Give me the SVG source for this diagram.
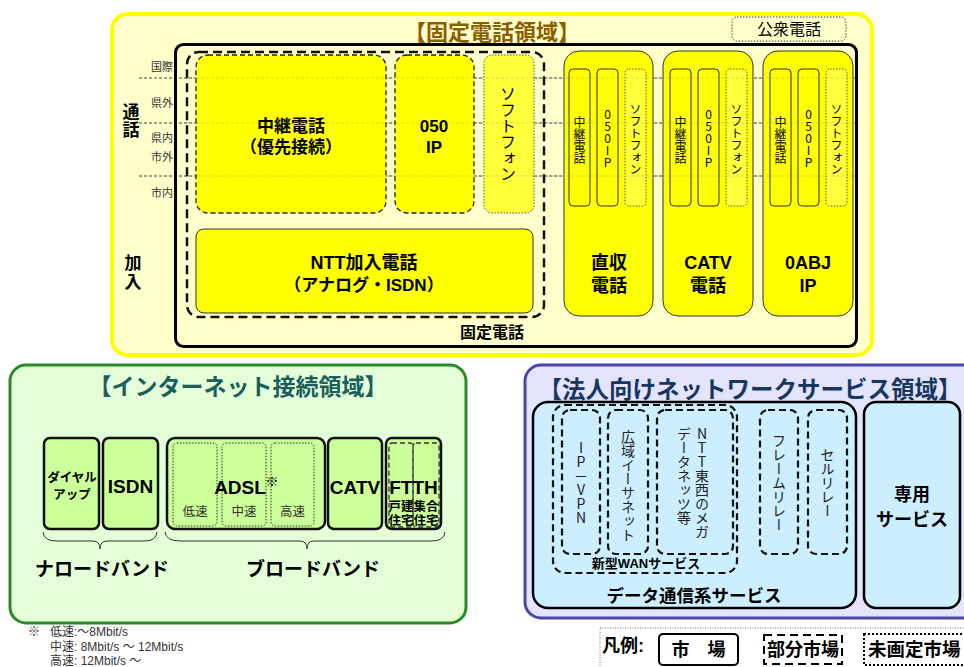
<svg xmlns="http://www.w3.org/2000/svg" width="964" height="667" viewBox="0 0 964 667">
<style>
text{font-family:'Liberation Sans','Noto Sans CJK JP',sans-serif;fill:#000}
.b{font-weight:bold}
.m{text-anchor:middle}
.v{font-family:'Noto Sans CJK JP',sans-serif;writing-mode:vertical-rl;text-orientation:upright;text-anchor:middle}
.ybox{fill:#FFFF00;stroke:#333;stroke-width:1}
.ysoft{fill:#FFFF3A;stroke:#555;stroke-width:1;stroke-dasharray:1.5 1.5}
.ydash{fill:#FFFF00;stroke:#222;stroke-width:1.3;stroke-dasharray:5 3}
.gbox{fill:#CCFF99;stroke:#111;stroke-width:2.5}
.gdot{fill:#CCFF99;stroke:#333;stroke-width:1;stroke-dasharray:1.5 1.5}
.gdash{fill:none;stroke:#333;stroke-width:1.3;stroke-dasharray:5 3}
.bdash{fill:none;stroke:#111;stroke-width:2.2;stroke-dasharray:7 4}
.guide{stroke:#444;stroke-width:1;stroke-dasharray:3 2;fill:none}
.faint{stroke:#777;stroke-width:1;stroke-dasharray:3 2;fill:none;opacity:0.3}
.small{font-size:11px;fill:#333}
</style>
<rect width="964" height="667" fill="#fff"/>

<!-- Fixed telephone area -->
<g id="fixed-area">
  <rect x="112" y="14" width="760" height="341" rx="16" fill="#FFFFCC" stroke="#FFFF00" stroke-width="4"/>
  <text x="492" y="40" class="b m" font-size="22" style="fill:#8C5E00">【固定電話領域】</text>
</g>
<g id="public-phone">
  <rect x="732" y="17" width="114" height="24" rx="5" fill="none" stroke="#444" stroke-width="1" stroke-dasharray="1.5 1.5"/>
  <text x="789" y="35" class="m" font-size="16">公衆電話</text>
</g>
<g id="guides">
  <line x1="139" y1="78" x2="857" y2="78" class="guide"/>
  <line x1="139" y1="123" x2="857" y2="123" class="guide"/>
  <line x1="139" y1="176" x2="857" y2="176" class="guide"/>
  <text x="162" y="71" class="m small">国際</text>
  <text x="162" y="107" class="m small">県外</text>
  <text x="162" y="142" class="m small">県内</text>
  <text x="162" y="161" class="m small">市外</text>
  <text x="162" y="197" class="m small">市内</text>
  <text x="131" y="118" class="b m" font-size="17">通</text>
  <text x="131" y="136" class="b m" font-size="17">話</text>
  <text x="133" y="269" class="b m" font-size="17">加</text>
  <text x="133" y="288" class="b m" font-size="17">入</text>
</g>
<g id="fixed-phone">
  <rect x="175.5" y="44.5" width="681" height="302" rx="8" fill="none" stroke="#000" stroke-width="3"/>
  <rect x="187" y="52" width="357" height="265" rx="12" fill="none" stroke="#111" stroke-width="2.5" stroke-dasharray="9 5"/>
  <text x="492" y="338" class="b m" font-size="16">固定電話</text>
</g>
<g id="relay-phone">
  <rect x="196" y="55" width="190" height="158" rx="12" class="ydash"/>
  <text x="291" y="132" class="b m" font-size="17">中継電話</text>
  <text x="291" y="153" class="b m" font-size="17">（優先接続）</text>
</g>
<g id="ip-050">
  <rect x="395" y="55" width="79" height="158" rx="12" class="ydash"/>
  <text x="434" y="132" class="b m" font-size="17">050</text>
  <text x="434" y="153" class="b m" font-size="17">IP</text>
</g>
<g id="softphone">
  <rect x="484" y="55" width="50" height="158" rx="8" class="ysoft"/>
  <text x="508" y="134" class="v" font-size="16">ソフトフォン</text>
</g>
<g id="ntt-subscriber">
  <rect x="196" y="229" width="337" height="84" rx="8" class="ybox"/>
  <text x="364" y="269" class="b m" font-size="18">NTT加入電話</text>
  <text x="364" y="291" class="b m" font-size="17">（アナログ・ISDN）</text>
</g>
<g id="direct-phone">
  <rect x="564" y="51" width="89" height="265" rx="15" class="ybox"/>
  <rect x="569" y="69" width="21" height="137" rx="4" class="ybox"/>
  <rect x="597" y="69" width="21" height="137" rx="4" class="ybox"/>
  <rect x="625" y="69" width="21" height="137" rx="4" class="ysoft"/>
  <text x="579.5" y="140" class="v" font-size="12">中継電話</text>
  <text x="607.5" y="138" class="v" font-size="12">050IP</text>
  <text x="635.5" y="139" class="v" font-size="12">ソフトフォン</text>
  <text x="609" y="269" class="b m" font-size="18">直収</text>
  <text x="609" y="292" class="b m" font-size="18">電話</text>
</g>
<g id="catv-phone">
  <rect x="663" y="51" width="90" height="265" rx="15" class="ybox"/>
  <rect x="670" y="69" width="21" height="137" rx="4" class="ybox"/>
  <rect x="698" y="69" width="21" height="137" rx="4" class="ybox"/>
  <rect x="726" y="69" width="21" height="137" rx="4" class="ysoft"/>
  <text x="680.5" y="140" class="v" font-size="12">中継電話</text>
  <text x="708.5" y="138" class="v" font-size="12">050IP</text>
  <text x="736.5" y="139" class="v" font-size="12">ソフトフォン</text>
  <text x="708" y="269" class="b m" font-size="18">CATV</text>
  <text x="708" y="292" class="b m" font-size="18">電話</text>
</g>
<g id="oabj-ip">
  <rect x="763" y="51" width="90" height="265" rx="15" class="ybox"/>
  <rect x="770" y="69" width="21" height="137" rx="4" class="ybox"/>
  <rect x="798" y="69" width="21" height="137" rx="4" class="ybox"/>
  <rect x="826" y="69" width="21" height="137" rx="4" class="ysoft"/>
  <text x="780.5" y="140" class="v" font-size="12">中継電話</text>
  <text x="808.5" y="138" class="v" font-size="12">050IP</text>
  <text x="836.5" y="139" class="v" font-size="12">ソフトフォン</text>
  <text x="808" y="269" class="b m" font-size="18">0ABJ</text>
  <text x="808" y="292" class="b m" font-size="18">IP</text>
</g>
<g id="guides-overlay">
  <line x1="186" y1="78" x2="855" y2="78" class="faint"/>
  <line x1="186" y1="123" x2="855" y2="123" class="faint"/>
  <line x1="186" y1="176" x2="855" y2="176" class="faint"/>
</g>

<!-- Internet area -->
<g id="internet-area">
  <rect x="10" y="365" width="456" height="258" rx="16" fill="#E4FFD8" stroke="#2A8A2A" stroke-width="3"/>
  <text x="238" y="395" class="b m" font-size="23" style="fill:#1B5E60">【インターネット接続領域】</text>
</g>
<g id="dialup">
  <rect x="44" y="438" width="55" height="91" rx="6" class="gbox"/>
  <text x="72" y="482" class="b m" font-size="12.5">ダイヤル</text>
  <text x="72" y="499" class="b m" font-size="12.5">アップ</text>
</g>
<g id="isdn">
  <rect x="103" y="438" width="55" height="91" rx="6" class="gbox"/>
  <text x="130.5" y="493" class="b m" font-size="19">ISDN</text>
</g>
<g id="adsl">
  <rect x="167" y="438" width="158" height="91" rx="8" class="gbox"/>
  <rect x="173" y="443" width="44" height="83" rx="4" class="gdot"/>
  <rect x="222" y="443" width="44" height="83" rx="4" class="gdot"/>
  <rect x="271" y="443" width="43" height="83" rx="4" class="gdot"/>
  <text x="240" y="494" class="b m" font-size="19">ADSL</text>
  <text x="272" y="486" class="b m" font-size="13">※</text>
  <text x="195" y="516" class="m" font-size="12.5" style="fill:#333">低速</text>
  <text x="244" y="516" class="m" font-size="12.5" style="fill:#333">中速</text>
  <text x="292.5" y="516" class="m" font-size="12.5" style="fill:#333">高速</text>
</g>
<g id="catv-net">
  <rect x="328" y="438" width="54" height="91" rx="6" class="gbox"/>
  <text x="355" y="494" class="b m" font-size="19">CATV</text>
</g>
<g id="ftth">
  <rect x="386" y="438" width="55" height="91" rx="6" class="gbox"/>
  <rect x="389" y="443" width="24" height="84" rx="3" class="gdash"/>
  <rect x="413" y="443" width="26" height="84" rx="3" class="gdash"/>
  <text x="413.5" y="494" class="b m" font-size="19">FTTH</text>
  <text x="401" y="511" class="b m" font-size="12.5">戸建</text>
  <text x="401" y="525" class="b m" font-size="12.5">住宅</text>
  <text x="426" y="511" class="b m" font-size="12.5">集合</text>
  <text x="426" y="525" class="b m" font-size="12.5">住宅</text>
</g>
<g id="narrowband">
  <path d="M43,532 Q44,541 56,541 L93,541 Q100,541 100,549 Q100,541 107,541 L145,541 Q156,541 157,532" fill="none" stroke="#333" stroke-width="1"/>
  <text x="102" y="576" class="b m" font-size="19">ナロードバンド</text>
</g>
<g id="broadband">
  <path d="M165,532 Q166,541 180,541 L300,541 Q307,541 307,549 Q307,541 314,541 L432,541 Q444,541 445,532" fill="none" stroke="#333" stroke-width="1"/>
  <text x="313" y="576" class="b m" font-size="19">ブロードバンド</text>
</g>
<g id="footnote">
  <text x="28" y="636" font-size="12" style="fill:#333">※</text>
  <text x="50" y="636" font-size="12" style="fill:#333">低速:～8Mbit/s</text>
  <text x="50" y="651" font-size="12" style="fill:#333">中速: 8Mbit/s ～ 12Mbit/s</text>
  <text x="50" y="665" font-size="12" style="fill:#333">高速: 12Mbit/s ～</text>
</g>

<!-- Corporate network area -->
<g id="corporate-area">
  <rect x="525" y="365" width="460" height="253" rx="16" fill="#E4E4FF" stroke="#4848A8" stroke-width="3"/>
  <text x="750" y="398" class="b m" font-size="23.5" style="fill:#17375E">【法人向けネットワークサービス領域】</text>
</g>
<g id="data-services">
  <rect x="533" y="402" width="323" height="206" rx="15" fill="#CCEEFF" stroke="#000" stroke-width="2.5"/>
  <text x="694" y="602" class="b m" font-size="17.5">データ通信系サービス</text>
</g>
<g id="new-wan">
  <rect x="553" y="405" width="184" height="168" rx="12" class="bdash"/>
  <text x="646" y="568" class="b m" font-size="13">新型WANサービス</text>
</g>
<g id="ip-vpn">
  <rect x="562" y="410" width="38" height="144" rx="8" class="bdash"/>
  <text x="581" y="483" class="v" font-size="14" style="fill:#222">IP－VPN</text>
</g>
<g id="wide-ethernet">
  <rect x="608" y="410" width="40" height="144" rx="8" class="bdash"/>
  <text x="628" y="486" class="v" font-size="14" style="fill:#222">広域イーサネット</text>
</g>
<g id="megadatanetz">
  <rect x="657" y="410" width="76" height="144" rx="8" class="bdash"/>
  <text x="702" y="427" class="v" font-size="14" style="fill:#222;text-anchor:start">NTT東西のメガ</text>
  <text x="684" y="427" class="v" font-size="14" style="fill:#222;text-anchor:start">データネッツ等</text>
</g>
<g id="frame-relay">
  <rect x="760" y="410" width="38" height="144" rx="8" class="bdash"/>
  <text x="779" y="483" class="v" font-size="14" style="fill:#222">フレームリレー</text>
</g>
<g id="cell-relay">
  <rect x="808" y="410" width="39" height="144" rx="8" class="bdash"/>
  <text x="827.5" y="483" class="v" font-size="14" style="fill:#222">セルリレー</text>
</g>
<g id="leased">
  <rect x="864" y="402" width="96" height="206" rx="12" fill="#CCEEFF" stroke="#000" stroke-width="2.5"/>
  <text x="912" y="501" class="b m" font-size="18">専用</text>
  <text x="912" y="526" class="b m" font-size="18">サービス</text>
</g>

<!-- Legend -->
<g id="legend">
  <rect x="600" y="628" width="380" height="50" fill="#fff" stroke="#777" stroke-width="1" stroke-dasharray="1 1.5"/>
  <text x="602" y="652" class="b" font-size="18">凡例:</text>
  <rect x="659" y="634" width="79" height="31" rx="4" fill="#fff" stroke="#000" stroke-width="2"/>
  <text x="698.5" y="656" class="b m" font-size="18">市　場</text>
  <rect x="764" y="635" width="78" height="29" fill="#fff" stroke="#000" stroke-width="2" stroke-dasharray="8 5"/>
  <text x="803" y="656" class="b m" font-size="18">部分市場</text>
  <rect x="864" y="634" width="110" height="31" fill="#fff" stroke="#000" stroke-width="2" stroke-dasharray="2 2"/>
  <text x="868" y="656" class="b" font-size="18.5">未画定市場</text>
</g>
</svg>
